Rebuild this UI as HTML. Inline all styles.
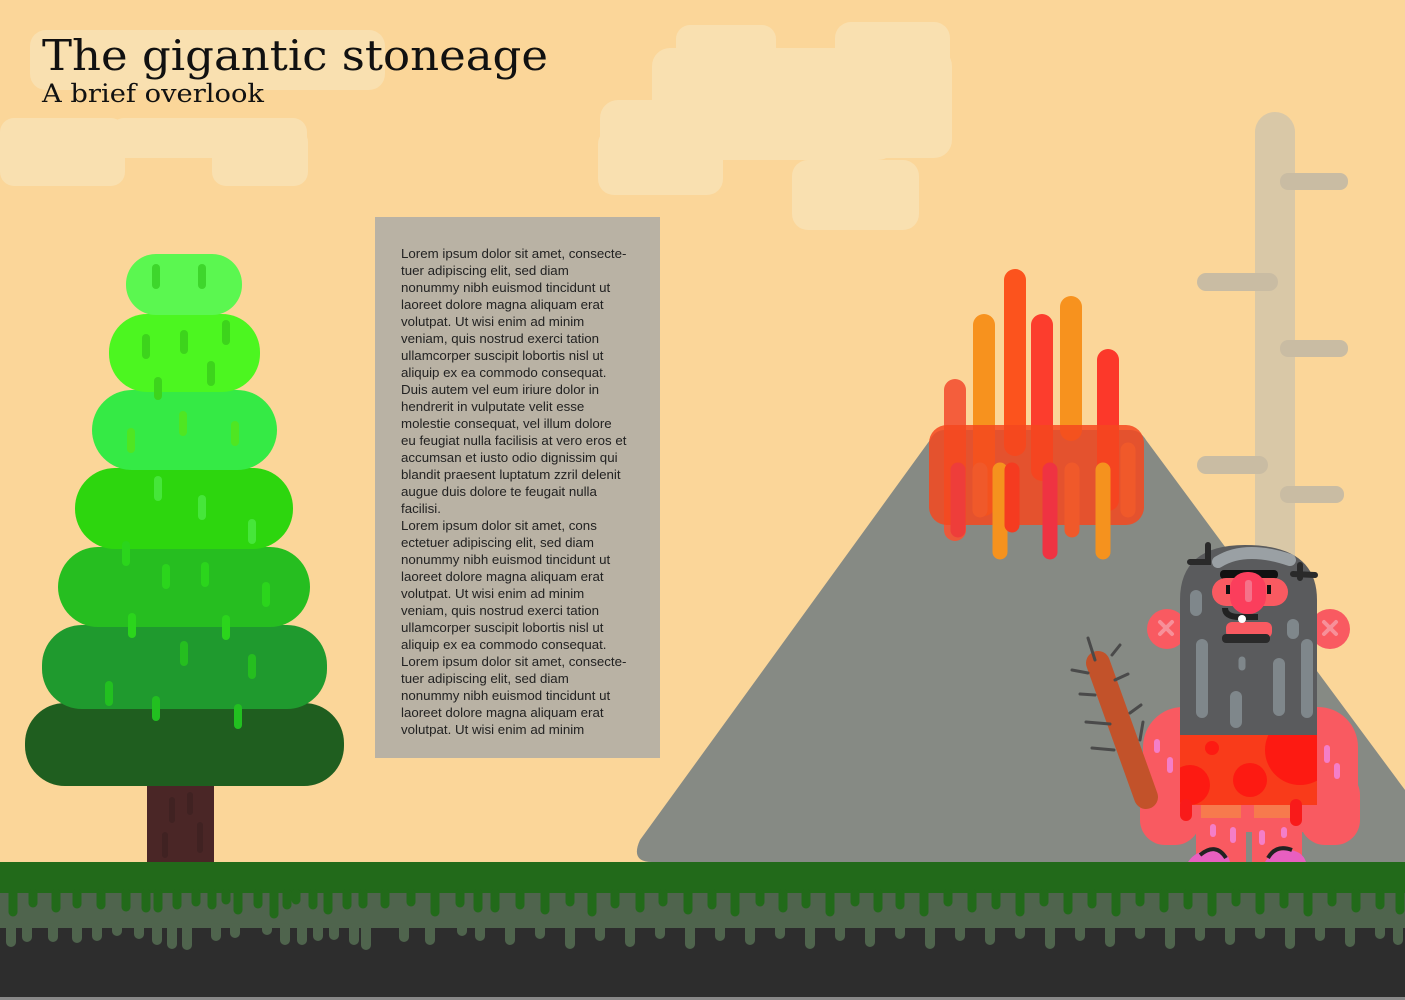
<!DOCTYPE html>
<html><head><meta charset="utf-8"><style>
html,body{margin:0;padding:0;background:#fbd699;}
svg{display:block}
</style></head><body>
<svg width="1405" height="1000" viewBox="0 0 1405 1000" xmlns="http://www.w3.org/2000/svg">
<defs><clipPath id="lc"><rect x="1180" y="735" width="137" height="70"/></clipPath></defs>
<rect width="1405" height="1000" fill="#fbd699"/>
<!-- clouds -->
<g fill="#f9e0b0">
<rect x="30" y="30" width="355" height="60" rx="16"/>
<rect x="0" y="118" width="125" height="68" rx="14"/>
<rect x="110" y="118" width="197" height="40" rx="14"/>
<rect x="212" y="128" width="96" height="58" rx="14"/>
<rect x="676" y="25" width="100" height="40" rx="14"/>
<rect x="652" y="48" width="300" height="110" rx="18"/>
<rect x="835" y="22" width="115" height="60" rx="16"/>
<rect x="598" y="128" width="125" height="67" rx="16"/>
<rect x="600" y="100" width="296" height="60" rx="18"/>
<rect x="792" y="160" width="127" height="70" rx="16"/>
</g>
<!-- smoke pillar -->
<rect x="1255" y="112" width="40" height="660" rx="20" fill="#d9c8a7"/>
<g fill="#c9bca3">
<rect x="1280" y="173" width="68" height="17" rx="8"/>
<rect x="1197" y="273" width="81" height="18" rx="9"/>
<rect x="1280" y="340" width="68" height="17" rx="8"/>
<rect x="1197" y="456" width="71" height="18" rx="9"/>
<rect x="1280" y="486" width="64" height="17" rx="8"/>
</g>
<!-- volcano -->
<path d="M652 862 Q630 862 640 840 L930 440 Q935 430 945 430 L1130 430 Q1140 430 1146 440 L1405 790 L1405 862 Z" fill="#868a84"/>
<!-- lava -->
<g stroke-linecap="round" fill="none" stroke-width="22" opacity="0.93">
<line x1="955" y1="390" x2="955" y2="530" stroke="#f45535"/>
<line x1="984" y1="325" x2="984" y2="505" stroke="#f78d15"/>
<line x1="1015" y1="280" x2="1015" y2="445" stroke="#fd4a14"/>
<line x1="1042" y1="325" x2="1042" y2="470" stroke="#fd3225"/>
<line x1="1071" y1="307" x2="1071" y2="430" stroke="#f78d15"/>
<line x1="1108" y1="360" x2="1108" y2="500" stroke="#fd2d22"/>
</g>
<rect x="929" y="425" width="215" height="100" rx="18" fill="#f5481e" opacity="0.85"/>
<g stroke-linecap="round" fill="none" stroke-width="15">
<line x1="958" y1="470" x2="958" y2="530" stroke="#ee3d3a"/>
<line x1="980" y1="470" x2="980" y2="510" stroke="#f0592a"/>
<line x1="1000" y1="470" x2="1000" y2="552" stroke="#f5921e"/>
<line x1="1012" y1="470" x2="1012" y2="525" stroke="#f53b20"/>
<line x1="1050" y1="470" x2="1050" y2="552" stroke="#ef3342"/>
<line x1="1072" y1="470" x2="1072" y2="530" stroke="#f0592a"/>
<line x1="1103" y1="470" x2="1103" y2="552" stroke="#f5921e"/>
<line x1="1128" y1="450" x2="1128" y2="510" stroke="#f0592a"/>
</g>
<!-- tree -->
<rect x="147" y="780" width="67" height="84" fill="#4a2626"/>
<g>
<rect x="25" y="703" width="319" height="83" rx="40" fill="#1f5e1f"/>
<rect x="42" y="625" width="285" height="84" rx="40" fill="#1f9a2e"/>
<rect x="58" y="547" width="252" height="80" rx="40" fill="#26be20"/>
<rect x="75" y="468" width="218" height="81" rx="40" fill="#2dd60e"/>
<rect x="92" y="390" width="185" height="80" rx="40" fill="#35ea45"/>
<rect x="109" y="314" width="151" height="78" rx="38" fill="#4cf620"/>
<rect x="126" y="254" width="116" height="61" rx="30" fill="#5bf750"/>
</g>
<g stroke-linecap="round" stroke-width="8" fill="none">
<line x1="156" y1="268" x2="156" y2="285" stroke="#3ed62c"/>
<line x1="202" y1="268" x2="202" y2="285" stroke="#3ed62c"/>
<line x1="146" y1="338" x2="146" y2="355" stroke="#3dd41c"/>
<line x1="184" y1="334" x2="184" y2="350" stroke="#3dd41c"/>
<line x1="226" y1="324" x2="226" y2="341" stroke="#3dd41c"/>
<line x1="211" y1="365" x2="211" y2="382" stroke="#3dd41c"/>
<line x1="158" y1="381" x2="158" y2="396" stroke="#3dd41c"/>
<line x1="131" y1="432" x2="131" y2="449" stroke="#4fe622"/>
<line x1="183" y1="415" x2="183" y2="432" stroke="#4fe622"/>
<line x1="235" y1="425" x2="235" y2="442" stroke="#4fe622"/>
<line x1="158" y1="480" x2="158" y2="497" stroke="#46e63a"/>
<line x1="202" y1="499" x2="202" y2="516" stroke="#46e63a"/>
<line x1="252" y1="523" x2="252" y2="540" stroke="#46e63a"/>
<line x1="126" y1="545" x2="126" y2="562" stroke="#2bd51c"/>
<line x1="166" y1="568" x2="166" y2="585" stroke="#2bd51c"/>
<line x1="205" y1="566" x2="205" y2="583" stroke="#2bd51c"/>
<line x1="266" y1="586" x2="266" y2="603" stroke="#2bd51c"/>
<line x1="132" y1="617" x2="132" y2="634" stroke="#2bd51c"/>
<line x1="226" y1="619" x2="226" y2="636" stroke="#2bd51c"/>
<line x1="184" y1="645" x2="184" y2="662" stroke="#25be1f"/>
<line x1="252" y1="658" x2="252" y2="675" stroke="#25be1f"/>
<line x1="109" y1="685" x2="109" y2="702" stroke="#22c020"/>
<line x1="156" y1="700" x2="156" y2="717" stroke="#22c020"/>
<line x1="238" y1="708" x2="238" y2="725" stroke="#22c020"/>
</g>
<g stroke="#3a2020" stroke-width="6" stroke-linecap="round" opacity="0.6">
<line x1="172" y1="800" x2="172" y2="820"/><line x1="190" y1="795" x2="190" y2="812"/><line x1="200" y1="825" x2="200" y2="850"/><line x1="165" y1="835" x2="165" y2="855"/>
</g>
<!-- text box -->
<rect x="375" y="217" width="285" height="541" fill="#b9b2a4"/>
<text font-family="Liberation Sans, sans-serif" font-size="13.3" fill="#222" x="401">
<tspan x="401" y="258">Lorem ipsum dolor sit amet, consecte-</tspan>
<tspan x="401" y="275">tuer adipiscing elit, sed diam</tspan>
<tspan x="401" y="292">nonummy nibh euismod tincidunt ut</tspan>
<tspan x="401" y="309">laoreet dolore magna aliquam erat</tspan>
<tspan x="401" y="326">volutpat. Ut wisi enim ad minim</tspan>
<tspan x="401" y="343">veniam, quis nostrud exerci tation</tspan>
<tspan x="401" y="360">ullamcorper suscipit lobortis nisl ut</tspan>
<tspan x="401" y="377">aliquip ex ea commodo consequat.</tspan>
<tspan x="401" y="394">Duis autem vel eum iriure dolor in</tspan>
<tspan x="401" y="411">hendrerit in vulputate velit esse</tspan>
<tspan x="401" y="428">molestie consequat, vel illum dolore</tspan>
<tspan x="401" y="445">eu feugiat nulla facilisis at vero eros et</tspan>
<tspan x="401" y="462">accumsan et iusto odio dignissim qui</tspan>
<tspan x="401" y="479">blandit praesent luptatum zzril delenit</tspan>
<tspan x="401" y="496">augue duis dolore te feugait nulla</tspan>
<tspan x="401" y="513">facilisi.</tspan>
<tspan x="401" y="530">Lorem ipsum dolor sit amet, cons</tspan>
<tspan x="401" y="547">ectetuer adipiscing elit, sed diam</tspan>
<tspan x="401" y="564">nonummy nibh euismod tincidunt ut</tspan>
<tspan x="401" y="581">laoreet dolore magna aliquam erat</tspan>
<tspan x="401" y="598">volutpat. Ut wisi enim ad minim</tspan>
<tspan x="401" y="615">veniam, quis nostrud exerci tation</tspan>
<tspan x="401" y="632">ullamcorper suscipit lobortis nisl ut</tspan>
<tspan x="401" y="649">aliquip ex ea commodo consequat.</tspan>
<tspan x="401" y="666">Lorem ipsum dolor sit amet, consecte-</tspan>
<tspan x="401" y="683">tuer adipiscing elit, sed diam</tspan>
<tspan x="401" y="700">nonummy nibh euismod tincidunt ut</tspan>
<tspan x="401" y="717">laoreet dolore magna aliquam erat</tspan>
<tspan x="401" y="734">volutpat. Ut wisi enim ad minim</tspan>
</text>
<!-- title -->
<text x="42" y="70" font-family="DejaVu Serif, Liberation Serif, serif" font-size="42" fill="#111" textLength="506" lengthAdjust="spacingAndGlyphs">The gigantic stoneage</text>
<text x="42" y="102" font-family="DejaVu Serif, Liberation Serif, serif" font-size="25" fill="#111" textLength="222" lengthAdjust="spacingAndGlyphs">A brief overlook</text>
<!-- caveman -->
<g>
<rect x="1143" y="707" width="215" height="125" rx="40" fill="#f95a61"/>
<rect x="1140" y="770" width="60" height="75" rx="25" fill="#f95a61"/>
<rect x="1300" y="770" width="60" height="75" rx="25" fill="#f95a61"/>
<rect x="1196" y="800" width="50" height="62" fill="#f95a61"/>
<rect x="1252" y="800" width="50" height="62" fill="#f95a61"/>
<rect x="1201" y="803" width="40" height="15" fill="#f77a4d"/>
<rect x="1254" y="803" width="40" height="15" fill="#f77a4d"/>
<line x1="1098" y1="663" x2="1146" y2="797" stroke="#c2522a" stroke-width="24" stroke-linecap="round"/>
<g stroke="#4a4a4a" stroke-width="3" stroke-linecap="round">
<line x1="1088" y1="638" x2="1095" y2="660"/><line x1="1112" y1="655" x2="1120" y2="645"/>
<line x1="1072" y1="670" x2="1088" y2="673"/><line x1="1115" y1="680" x2="1128" y2="674"/>
<line x1="1080" y1="694" x2="1095" y2="695"/><line x1="1130" y1="713" x2="1141" y2="705"/>
<line x1="1086" y1="722" x2="1110" y2="724"/><line x1="1140" y1="740" x2="1143" y2="722"/>
<line x1="1092" y1="748" x2="1114" y2="750"/>
</g>
<circle cx="1167" cy="629" r="20" fill="#f95a61"/>
<circle cx="1330" cy="629" r="20" fill="#f95a61"/>
<g stroke="#f79099" stroke-width="4" stroke-linecap="round">
<line x1="1160" y1="622" x2="1172" y2="634"/><line x1="1172" y1="622" x2="1160" y2="634"/>
<line x1="1324" y1="622" x2="1336" y2="634"/><line x1="1336" y1="622" x2="1324" y2="634"/>
</g>
<path d="M1180 805 L1180 600 Q1180 545 1245 545 Q1317 545 1317 600 L1317 805 Z" fill="#5a5b5d"/>
<path d="M1218 562 Q1245 545 1290 560" stroke="#9aa0a4" stroke-width="12" fill="none" stroke-linecap="round"/>
<g stroke="#2a2a2a" stroke-width="6" fill="none" stroke-linecap="round">
<path d="M1208 545 L1208 562 L1190 562"/><path d="M1300 565 L1300 578 M1293 574 L1315 575"/>
</g>
<rect x="1220" y="570" width="58" height="9" rx="4" fill="#111"/>
<rect x="1212" y="578" width="76" height="28" rx="14" fill="#f95a61"/>
<rect x="1230" y="572" width="36" height="42" rx="17" fill="#fb3e5c"/>
<rect x="1245" y="580" width="7" height="22" rx="3" fill="#f5728a"/>
<rect x="1226" y="585" width="4" height="9" fill="#111"/><rect x="1267" y="585" width="4" height="9" fill="#111"/>
<path d="M1225 608 Q1225 617 1240 617 L1258 617" stroke="#222" stroke-width="6" fill="none"/>
<rect x="1226" y="622" width="46" height="16" rx="6" fill="#f95a61"/>
<rect x="1222" y="634" width="48" height="9" rx="4" fill="#2a2a2a"/>
<circle cx="1242" cy="619" r="4" fill="#fff"/>
<g stroke="#7f878b" stroke-width="12" stroke-linecap="round">
<line x1="1196" y1="596" x2="1196" y2="610"/>
<line x1="1202" y1="645" x2="1202" y2="712"/>
<line x1="1236" y1="697" x2="1236" y2="722"/>
<line x1="1279" y1="664" x2="1279" y2="710"/>
<line x1="1307" y1="645" x2="1307" y2="712"/>
<line x1="1293" y1="625" x2="1293" y2="633"/>
</g>
<line x1="1242" y1="660" x2="1242" y2="667" stroke="#7f878b" stroke-width="7" stroke-linecap="round"/>
<rect x="1180" y="735" width="137" height="70" fill="#f93b1a"/>
<g clip-path="url(#lc)" fill="#fd1a12">
<circle cx="1300" cy="750" r="35"/>
<circle cx="1250" cy="780" r="17"/>
<circle cx="1190" cy="785" r="20"/>
<circle cx="1212" cy="748" r="7"/>
</g>
<line x1="1186" y1="805" x2="1186" y2="815" stroke="#f91a1a" stroke-width="12" stroke-linecap="round"/>
<line x1="1296" y1="805" x2="1296" y2="820" stroke="#f91a1a" stroke-width="12" stroke-linecap="round"/>
<g stroke="#f47ec8" stroke-width="6" stroke-linecap="round">
<line x1="1157" y1="742" x2="1157" y2="750"/><line x1="1170" y1="760" x2="1170" y2="770"/>
<line x1="1327" y1="748" x2="1327" y2="760"/><line x1="1337" y1="766" x2="1337" y2="776"/>
<line x1="1213" y1="827" x2="1213" y2="834"/><line x1="1233" y1="830" x2="1233" y2="840"/>
<line x1="1262" y1="833" x2="1262" y2="842"/><line x1="1284" y1="830" x2="1284" y2="835"/>
</g>
<path d="M1188 862 Q1196 850 1212 850 Q1228 850 1230 862 Z" fill="#e85fc0"/>
<path d="M1265 862 Q1272 850 1287 850 Q1302 850 1306 862 Z" fill="#e85fc0"/>
<path d="M1200 855 Q1216 842 1226 858" stroke="#222" stroke-width="4" fill="none"/>
<path d="M1268 858 Q1276 844 1292 850" stroke="#222" stroke-width="4" fill="none"/>
</g>
<!-- ground -->
<rect x="0" y="862" width="1405" height="32" fill="#226a1a"/>
<rect x="0" y="893" width="1405" height="36" fill="#4f644d"/>
<rect x="0" y="928" width="1405" height="69" fill="#2d2d2d"/>
<rect x="0" y="997" width="1405" height="3" fill="#888"/>
<g stroke="#226a1a" stroke-width="9" stroke-linecap="round">
<line x1="13" y1="893" x2="13" y2="912"/><line x1="33" y1="893" x2="33" y2="903"/><line x1="56" y1="893" x2="56" y2="908"/><line x1="77" y1="893" x2="77" y2="904"/><line x1="101" y1="893" x2="101" y2="905"/><line x1="126" y1="893" x2="126" y2="907"/><line x1="146" y1="893" x2="146" y2="908"/><line x1="158" y1="893" x2="158" y2="908"/><line x1="177" y1="893" x2="177" y2="905"/><line x1="196" y1="893" x2="196" y2="902"/><line x1="212" y1="893" x2="212" y2="905"/><line x1="226" y1="893" x2="226" y2="900"/><line x1="238" y1="893" x2="238" y2="910"/><line x1="258" y1="893" x2="258" y2="904"/><line x1="274" y1="893" x2="274" y2="914"/><line x1="287" y1="893" x2="287" y2="905"/><line x1="296" y1="893" x2="296" y2="900"/><line x1="313" y1="893" x2="313" y2="905"/><line x1="328" y1="893" x2="328" y2="910"/><line x1="347" y1="893" x2="347" y2="905"/><line x1="363" y1="893" x2="363" y2="904"/><line x1="385" y1="893" x2="385" y2="904"/><line x1="411" y1="893" x2="411" y2="902"/><line x1="435" y1="893" x2="435" y2="912"/><line x1="460" y1="893" x2="460" y2="903"/><line x1="478" y1="893" x2="478" y2="908"/><line x1="495" y1="893" x2="495" y2="908"/>
<line x1="520" y1="893" x2="520" y2="905"/><line x1="545" y1="893" x2="545" y2="910"/><line x1="570" y1="893" x2="570" y2="902"/><line x1="592" y1="893" x2="592" y2="912"/><line x1="615" y1="893" x2="615" y2="904"/><line x1="640" y1="893" x2="640" y2="908"/><line x1="663" y1="893" x2="663" y2="902"/><line x1="688" y1="893" x2="688" y2="910"/><line x1="712" y1="893" x2="712" y2="905"/><line x1="735" y1="893" x2="735" y2="912"/><line x1="760" y1="893" x2="760" y2="902"/><line x1="783" y1="893" x2="783" y2="908"/><line x1="806" y1="893" x2="806" y2="904"/><line x1="830" y1="893" x2="830" y2="912"/><line x1="855" y1="893" x2="855" y2="902"/><line x1="878" y1="893" x2="878" y2="908"/><line x1="900" y1="893" x2="900" y2="905"/><line x1="924" y1="893" x2="924" y2="912"/><line x1="948" y1="893" x2="948" y2="902"/><line x1="972" y1="893" x2="972" y2="908"/><line x1="996" y1="893" x2="996" y2="905"/><line x1="1020" y1="893" x2="1020" y2="912"/><line x1="1044" y1="893" x2="1044" y2="902"/><line x1="1068" y1="893" x2="1068" y2="910"/><line x1="1092" y1="893" x2="1092" y2="904"/><line x1="1116" y1="893" x2="1116" y2="912"/><line x1="1140" y1="893" x2="1140" y2="902"/><line x1="1164" y1="893" x2="1164" y2="908"/><line x1="1188" y1="893" x2="1188" y2="905"/><line x1="1212" y1="893" x2="1212" y2="912"/><line x1="1236" y1="893" x2="1236" y2="902"/><line x1="1260" y1="893" x2="1260" y2="910"/><line x1="1284" y1="893" x2="1284" y2="904"/><line x1="1308" y1="893" x2="1308" y2="912"/><line x1="1332" y1="893" x2="1332" y2="902"/><line x1="1356" y1="893" x2="1356" y2="908"/><line x1="1380" y1="893" x2="1380" y2="905"/><line x1="1400" y1="893" x2="1400" y2="910"/>
</g>
<g stroke="#4f644d" stroke-width="10" stroke-linecap="round">
<line x1="11" y1="928" x2="11" y2="942"/><line x1="27" y1="928" x2="27" y2="937"/><line x1="53" y1="928" x2="53" y2="937"/><line x1="77" y1="928" x2="77" y2="938"/><line x1="97" y1="928" x2="97" y2="936"/><line x1="117" y1="928" x2="117" y2="931"/><line x1="139" y1="928" x2="139" y2="934"/><line x1="157" y1="928" x2="157" y2="940"/><line x1="172" y1="928" x2="172" y2="944"/><line x1="187" y1="928" x2="187" y2="945"/><line x1="216" y1="928" x2="216" y2="936"/><line x1="235" y1="928" x2="235" y2="933"/><line x1="267" y1="928" x2="267" y2="930"/><line x1="285" y1="928" x2="285" y2="940"/><line x1="302" y1="928" x2="302" y2="940"/><line x1="318" y1="928" x2="318" y2="936"/><line x1="334" y1="928" x2="334" y2="935"/><line x1="354" y1="928" x2="354" y2="940"/><line x1="366" y1="928" x2="366" y2="945"/><line x1="404" y1="928" x2="404" y2="937"/><line x1="430" y1="928" x2="430" y2="940"/><line x1="462" y1="928" x2="462" y2="931"/><line x1="480" y1="928" x2="480" y2="936"/>
<line x1="510" y1="928" x2="510" y2="940"/><line x1="540" y1="928" x2="540" y2="934"/><line x1="570" y1="928" x2="570" y2="944"/><line x1="600" y1="928" x2="600" y2="936"/><line x1="630" y1="928" x2="630" y2="942"/><line x1="660" y1="928" x2="660" y2="934"/><line x1="690" y1="928" x2="690" y2="944"/><line x1="720" y1="928" x2="720" y2="936"/><line x1="750" y1="928" x2="750" y2="940"/><line x1="780" y1="928" x2="780" y2="934"/><line x1="810" y1="928" x2="810" y2="944"/><line x1="840" y1="928" x2="840" y2="936"/><line x1="870" y1="928" x2="870" y2="942"/><line x1="900" y1="928" x2="900" y2="934"/><line x1="930" y1="928" x2="930" y2="944"/><line x1="960" y1="928" x2="960" y2="936"/><line x1="990" y1="928" x2="990" y2="940"/><line x1="1020" y1="928" x2="1020" y2="934"/><line x1="1050" y1="928" x2="1050" y2="944"/><line x1="1080" y1="928" x2="1080" y2="936"/><line x1="1110" y1="928" x2="1110" y2="942"/><line x1="1140" y1="928" x2="1140" y2="934"/><line x1="1170" y1="928" x2="1170" y2="944"/><line x1="1200" y1="928" x2="1200" y2="936"/><line x1="1230" y1="928" x2="1230" y2="940"/><line x1="1260" y1="928" x2="1260" y2="934"/><line x1="1290" y1="928" x2="1290" y2="944"/><line x1="1320" y1="928" x2="1320" y2="936"/><line x1="1350" y1="928" x2="1350" y2="942"/><line x1="1380" y1="928" x2="1380" y2="934"/><line x1="1398" y1="928" x2="1398" y2="940"/>
</g>
</svg>
</body></html>
